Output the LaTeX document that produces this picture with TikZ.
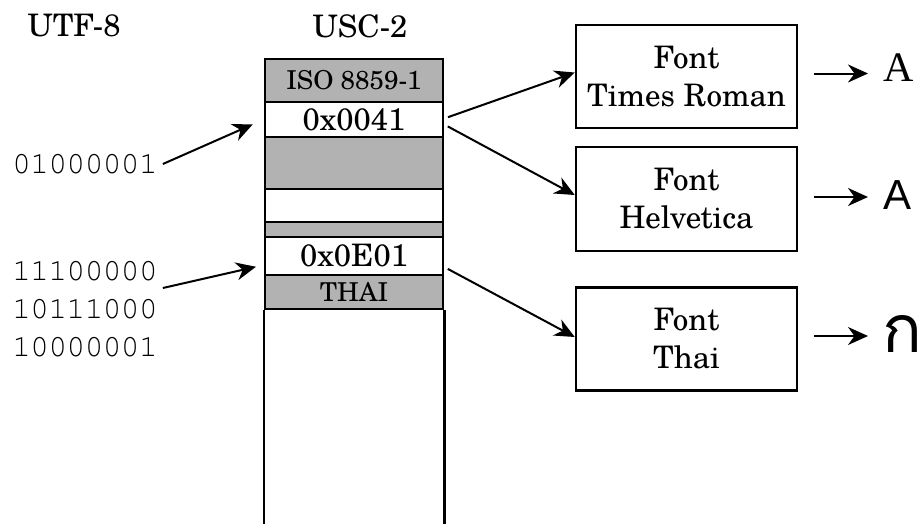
\documentclass[tikz,border=0pt]{standalone}
\usepackage{fontspec}
\usetikzlibrary{arrows.meta}
\setmainfont{texgyreschola}[Extension=.otf, UprightFont=*-regular]
\newfontfamily\bitfont{texgyrecursor-regular.otf}[LetterSpace=-1.6]
\newfontfamily\timesfont{Liberation Serif}
\newfontfamily\helvfont{Liberation Sans}
\newfontfamily\thaifont[Script=Thai]{Loma}
\definecolor{cellgray}{gray}{0.7}
\begin{document}
\begin{tikzpicture}[x=1pt, y=-1pt,
  font=\fontsize{31}{38}\selectfont,
  cell/.style={draw, line width=2.5pt, minimum width=178pt, inner sep=0pt},
  graycell/.style={cell, fill=cellgray},
  small/.style={font=\fontsize{26}{32}\selectfont},
  fontbox/.style={draw, line width=2.5pt, minimum width=221pt, minimum height=103pt, align=center, inner sep=0pt},
  inarrow/.style={-{Stealth[length=20pt, width=18pt]}, line width=2pt},
  bits/.style={font=\bitfont\fontsize{31}{38}\selectfont, inner sep=5pt, align=left},
  glyph/.style={inner sep=0pt, anchor=west}]
\useasboundingbox (0,0) rectangle (922,523);
\node (utf) at (74,26) {UTF-8};
\node (usc) at (360,26) {USC-2};
% the code table
\node[graycell, small, minimum height=43pt] (iso) at (354,80.5) {ISO 8859-1};
\node[cell, minimum height=35pt] (a41) at (354,119.5) {0x0041};
\node[graycell, minimum height=52pt] (gap1) at (354,163) {};
\node[cell, minimum height=33pt] (free) at (354,205.5) {};
\node[graycell, minimum height=15pt] (gap2) at (354,229.5) {};
\node[cell, minimum height=38pt] (e01) at (354,256) {0x0E01};
\node[graycell, small, minimum height=34pt] (thai) at (354,292) {THAI};
\coordinate (bottom) at (0,527);
\draw[line width=2.5pt] (thai.south west) -- (thai.south west |- bottom);
\draw[line width=2.5pt] (thai.south east) -- (thai.south east |- bottom);
% byte strings
\node[bits] (bitsa) at (85,164) {01000001};
\node[bits] (bitsthai) at (85,309) {11100000\\10111000\\10000001};
\draw[inarrow, shorten >=12pt] (bitsa.east) -- (a41.west);
\draw[inarrow, shorten >=8pt] ([yshift=21pt]bitsthai.east) -- ([yshift=-9pt]e01.west);
% fonts
\node[fontbox] (fbtimes) at (686.5,76.5) {Font\\Times Roman};
\node[fontbox, minimum height=104pt] (fbhelv) at (686.5,199) {Font\\Helvetica};
\node[fontbox] (fbthai) at (686.5,339) {Font\\Thai};
\draw[inarrow, shorten <=4pt] ([yshift=1pt]a41.east) -- ([yshift=4pt]fbtimes.west);
\draw[inarrow, shorten <=4pt] ([yshift=-5pt]a41.east) -- ([yshift=4pt]fbhelv.west);
\draw[inarrow, shorten <=4pt] ([yshift=-11pt]e01.east) -- ([yshift=2pt]fbthai.west);
% glyphs
\node[glyph, font=\timesfont\fontsize{42}{42}\selectfont] (gtimes) at (883,68) {A};
\node[glyph, font=\helvfont\fontsize{42}{42}\selectfont] (ghelv) at (883,195) {A};
\node[glyph, font=\thaifont\fontsize{66}{66}\selectfont] (gthai) at (882,334) {ก};
\draw[inarrow, shorten <=16pt, shorten >=15pt] ([yshift=3pt]fbtimes.east) -- ([yshift=3pt]fbtimes.east -| gtimes.west);
\draw[inarrow, shorten <=16pt, shorten >=15pt] ([yshift=2pt]fbhelv.east) -- ([yshift=2pt]fbhelv.east -| ghelv.west);
\draw[inarrow, shorten <=16pt, shorten >=14pt] ([yshift=3pt]fbthai.east) -- ([yshift=3pt]fbthai.east -| gthai.west);
\end{tikzpicture}
\end{document}
